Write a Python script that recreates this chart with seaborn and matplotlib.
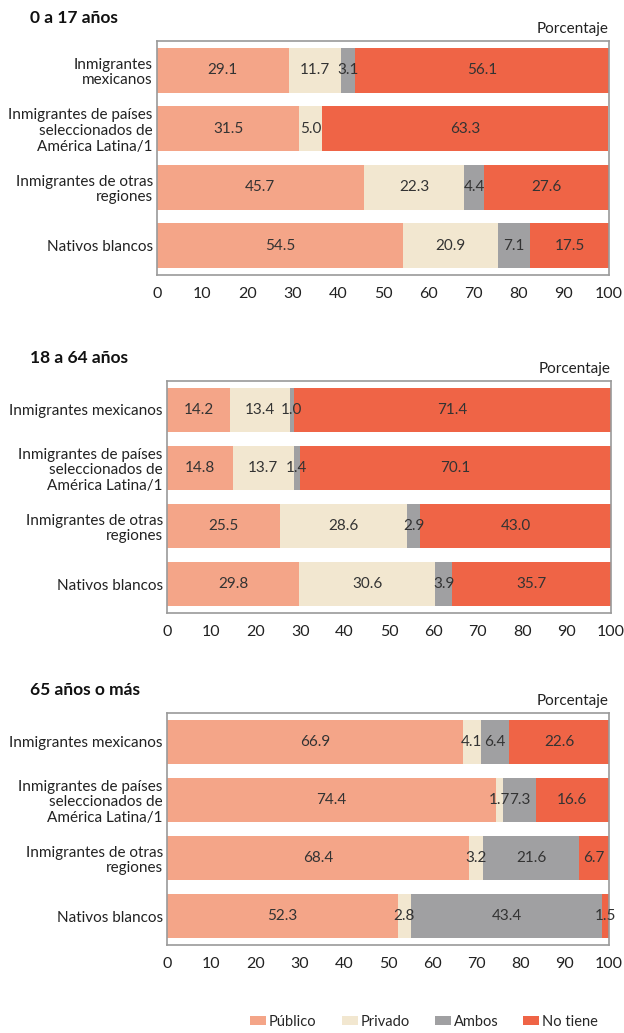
import numpy as np
import pandas as pd
import matplotlib
matplotlib.use("Agg")
import matplotlib.pyplot as plt
import seaborn as sns
from matplotlib.patches import Patch
from matplotlib.ticker import FixedLocator

sns.set_style("white")
plt.rcParams['font.family'] = ['Lato', 'DejaVu Sans']

categories = ["Inmigrantes\nmexicanos",
              "Inmigrantes de países\nseleccionados de\nAmérica Latina/1",
              "Inmigrantes de otras\nregiones",
              "Nativos blancos"]
categories_b = ["Inmigrantes mexicanos",
                "Inmigrantes de países\nseleccionados de\nAmérica Latina/1",
                "Inmigrantes de otras\nregiones",
                "Nativos blancos"]
series = ["Público", "Privado", "Ambos", "No tiene"]
colors = ["#F4A588", "#F2E7D0", "#A0A0A2", "#EF6446"]

titles = ["0 a 17 años", "18 a 64 años", "65 años o más"]

# values per panel: rows = categories, cols = series
p1_publico = [29.1, 31.5, 45.7, 54.5]
p1_privado = [11.7, 5.0, 22.3, 20.9]
p1_ambos   = [3.1, 0.0, 4.4, 7.1]
p1_notiene = [56.1, 63.3, 27.6, 17.5]

p2_publico = [14.2, 14.8, 25.5, 29.8]
p2_privado = [13.4, 13.7, 28.6, 30.6]
p2_ambos   = [1.0, 1.4, 2.9, 3.9]
p2_notiene = [71.4, 70.1, 43.0, 35.7]

p3_publico = [66.9, 74.4, 68.4, 52.3]
p3_privado = [4.1, 1.7, 3.2, 2.8]
p3_ambos   = [6.4, 7.3, 21.6, 43.4]
p3_notiene = [22.6, 16.6, 6.7, 1.5]

x_ticks = list(range(0, 101, 10))

panels = [
    (categories, [p1_publico, p1_privado, p1_ambos, p1_notiene]),
    (categories_b, [p2_publico, p2_privado, p2_ambos, p2_notiene]),
    (categories_b, [p3_publico, p3_privado, p3_ambos, p3_notiene]),
]

fig = plt.figure(figsize=(6.24, 10.33), dpi=100)
W, H = 624, 1033
boxes = [(157, 41, 609, 275), (167, 381, 611, 613), (167, 713, 609, 945)]
title_y = [18, 358, 690]

spine_col = "#9A9A9A"
for i, ((cats, vals), box) in enumerate(zip(panels, boxes)):
    l, t, r, b = box
    ax = fig.add_axes([l / W, 1 - b / H, (r - l) / W, (b - t) / H])
    arr = np.array(vals).T  # rows categories
    cum = np.cumsum(arr, axis=1)
    df = pd.DataFrame(cum, columns=series)
    df["cat"] = cats
    for j in range(3, -1, -1):
        sns.barplot(data=df, x=series[j], y="cat", orient="h", color=colors[j],
                    width=0.77, ax=ax, saturation=1, linewidth=0)
    # labels
    for ri in range(len(cats)):
        left = 0
        for j in range(4):
            v = arr[ri, j]
            if v > 0:
                ax.text(left + v / 2, ri, f"{v:.1f}", ha="center", va="center",
                        fontsize=11, color="#333333")
            left += v
    ax.set_xlim(0, 100)
    ax.set_ylim(3.5, -0.5)
    ax.set_xlabel("")
    ax.set_ylabel("")
    ax.set_xticks(x_ticks)
    ax.set_xticklabels([str(x) for x in x_ticks], fontsize=11.5, color="#222222")
    ax.set_yticks(range(len(cats)))
    ax.set_yticklabels(cats, fontsize=11, color="#222222", linespacing=1.15)
    ax.yaxis.set_minor_locator(FixedLocator([-0.5, 0.5, 1.5, 2.5, 3.5]))
    ax.tick_params(axis="y", which="major", length=0, pad=3)
    ax.tick_params(axis="y", which="minor", length=5, color=spine_col, width=1)
    ax.tick_params(axis="x", which="major", length=5, color=spine_col, width=1, pad=4)
    for s in ax.spines.values():
        s.set_color(spine_col)
        s.set_linewidth(1.2)
        s.set_visible(True)
    ax.text(1.0, 1.02, "Porcentaje", transform=ax.transAxes, ha="right", va="bottom",
            fontsize=11, color="#222222")
    fig.text(30 / W, 1 - title_y[i] / H, titles[i], ha="left", va="center",
             fontsize=12.5, fontweight="bold", color="#111111")

handles = [Patch(facecolor=c, edgecolor="none", label=s) for s, c in zip(series, colors)]
fig.legend(handles=handles, loc="center", bbox_to_anchor=(424 / W, 1 - 1022 / H), ncol=4,
           frameon=False, fontsize=10.5, handlelength=1.1, handleheight=0.6,
           handletextpad=0.2, columnspacing=1.7, borderaxespad=0, borderpad=0)

fig.savefig("out.png", dpi=100)
